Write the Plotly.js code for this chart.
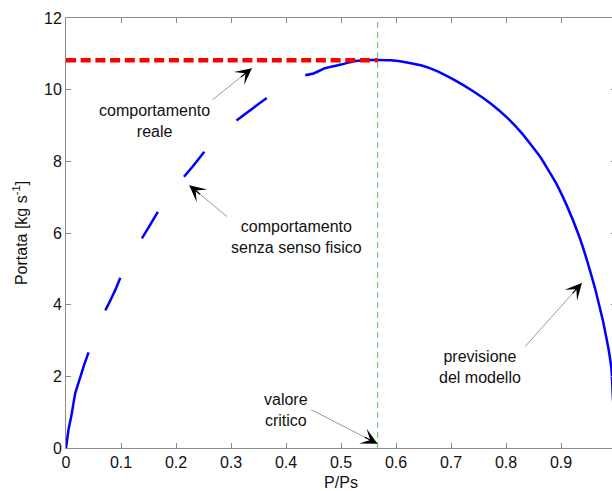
<!DOCTYPE html>
<html>
<head>
<meta charset="utf-8">
<script src="https://cdn.plot.ly/plotly-3.0.1.min.js"></script>
<style>
html, body { margin: 0; padding: 0; overflow: hidden; background: #fff; }
#chart { width: 620px; height: 491px; }
</style>
</head>
<body>
<div id="chart"></div>
<script>
// Model curve (blue), segments separated by null gaps
var ratioX = [0, 0.005, 0.0095, 0.017, 0.025, 0.033, 0.041, null,
  0.0715, 0.08, 0.09, 0.0987, null,
  0.138, 0.15, 0.167, null,
  0.2145, 0.23, 0.2515, null,
  0.31, 0.33, 0.35, 0.365, null,
  0.435, 0.45, 0.471, 0.5, 0.523, 0.545, 0.5666, 0.59, 0.62, 0.645, 0.668, 0.705,
  0.741, 0.7715, 0.802, 0.829, 0.8624, 0.89, 0.911, 0.932, 0.947, 0.962, 0.977,
  0.9866, 0.992, 0.994, 0.997, 1.0];
var flowY = [0, 0.55, 0.88, 1.54, 1.93, 2.32, 2.67, null,
  3.84, 4.1, 4.42, 4.75, null,
  5.85, 6.15, 6.59, null,
  7.57, 7.85, 8.27, null,
  9.14, 9.37, 9.6, 9.77, null,
  10.40, 10.45, 10.60, 10.70, 10.79, 10.82, 10.83, 10.82, 10.76, 10.68, 10.56, 10.28,
  9.95, 9.62, 9.22, 8.78, 8.12, 7.42, 6.75, 5.95, 5.25, 4.45, 3.5,
  2.75, 2.15, 1.5, 0.8, 0];

// Real behaviour (red dashed) and critical value (green dashed)
var realX = [0, 0.5666];
var realY = [10.82, 10.82];
var critX = [0.5666, 0.5666];
var critY = [0, 12];

var xTicks = [0, 0.1, 0.2, 0.3, 0.4, 0.5, 0.6, 0.7, 0.8, 0.9];
var xTickText = ['0', '0.1', '0.2', '0.3', '0.4', '0.5', '0.6', '0.7', '0.8', '0.9'];
var yTicks = [0, 2, 4, 6, 8, 10, 12];

// Annotation labels
var labelText = ['comportamento<br>reale', 'comportamento<br>senza senso fisico', 'valore<br>critico', 'previsione<br>del modello'];
var labelX = [0.1605, 0.419, 0.3996, 0.753];
var labelY = [9.135, 5.9, 1.055, 2.255];
// arrow heads and tails (data coords)
var headX = [0.338, 0.224, 0.5665, 0.938];
var headY = [10.60, 7.33, 0.12, 4.605];
var tailX = [0.2665, 0.2927, 0.4455, 0.835];
var tailY = [9.72, 6.46, 1.07, 2.835];

var FONT = '"Liberation Sans", Arial, Helvetica, sans-serif';

var traces = [
  {x: critX, y: critY, mode: 'lines', line: {color: '#6cc46c', width: 1.1, dash: '6px,4px'}, hoverinfo: 'skip'},
  {x: ratioX, y: flowY, mode: 'lines', connectgaps: false, line: {color: '#0000ff', width: 2.5, shape: 'spline', smoothing: 0.3}},
  {x: realX, y: realY, mode: 'lines', line: {color: '#ff0000', width: 4.5, dash: '10px,4.7px'}}
];

var shapes = [];
var annotations = [];
for (var i = 0; i < labelText.length; i++) {
  annotations.push({
    x: labelX[i], y: labelY[i], xref: 'x', yref: 'y', text: labelText[i], showarrow: false,
    xanchor: 'center', yanchor: 'middle', font: {family: FONT, size: 16, color: '#111'}
  });
  shapes.push({
    type: 'line', xref: 'x', yref: 'y', x0: tailX[i], y0: tailY[i], x1: headX[i], y1: headY[i],
    line: {color: '#9a9a9a', width: 1}
  });
}
// black heads: short segments along the arrow direction (pixel offsets)
var headDX = [-0.779, 0.773, -0.890, -0.667];
var headDY = [0.627, 0.635, -0.455, 0.746];
for (var j = 0; j < headX.length; j++) {
  annotations.push({
    x: headX[j], y: headY[j], xref: 'x', yref: 'y', ax: headDX[j] * 16, ay: headDY[j] * 16,
    text: '', showarrow: true, arrowhead: 3, arrowsize: 2.3, arrowwidth: 1.2, arrowcolor: '#000', standoff: 0
  });
}

var axisCommon = {
  showgrid: false, zeroline: false, showline: true, linecolor: '#8a8a8a', linewidth: 1,
  ticks: 'inside', ticklen: 5, tickcolor: '#8a8a8a', mirror: 'ticks',
  tickfont: {family: FONT, size: 16, color: '#111'}
};

var layout = {
  width: 620, height: 491,
  margin: {l: 66, r: 4, t: 18, b: 43},
  paper_bgcolor: '#fff', plot_bgcolor: '#fff',
  showlegend: false,
  font: {family: FONT, color: '#111'},
  xaxis: Object.assign({}, axisCommon, {
    range: [0, 1], tickvals: xTicks, ticktext: xTickText,
    title: {text: 'P/Ps', font: {family: FONT, size: 16, color: '#111'}, standoff: 6}
  }),
  yaxis: Object.assign({}, axisCommon, {
    range: [0, 12], tickvals: yTicks,
    title: {text: 'Portata [kg s<sup>-1</sup>]', font: {family: FONT, size: 16, color: '#111'}, standoff: 12}
  }),
  shapes: shapes,
  annotations: annotations
};

Plotly.newPlot('chart', traces, layout, {displayModeBar: false, staticPlot: true});
</script>
</body>
</html>
